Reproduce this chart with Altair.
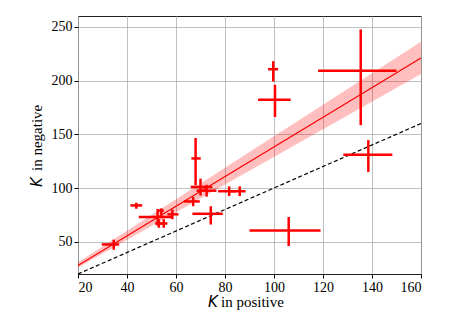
import altair as alt
import pandas as pd

# Cross (error bar) data
kpos    = [135.4, 99.7, 100.4, 138.5, 68.0, 70.0, 72.5, 81.7, 86.0, 67.0, 74.2, 106.0, 43.8, 52.5, 54.0, 53.0, 55.0, 58.5, 34.6]
kpos_lo = [118.0, 97.6, 93.5, 128.3, 66.3, 66.0, 68.4, 77.2, 82.0, 63.2, 66.7, 90.0, 41.4, 44.8, 52.8, 51.5, 53.5, 56.5, 29.7]
kpos_hi = [150.0, 101.7, 106.8, 148.3, 70.1, 74.8, 76.5, 84.5, 88.4, 69.7, 79.1, 119.0, 46.2, 58.8, 55.0, 54.5, 56.5, 61.0, 36.8]
kneg    = [209.0, 210.5, 182.0, 131.0, 127.5, 101.0, 97.5, 97.0, 97.0, 87.5, 76.0, 60.5, 83.8, 73.0, 79.0, 67.0, 67.0, 75.5, 47.5]
kneg_lo = [158.5, 199.0, 166.0, 115.0, 102.5, 93.0, 92.0, 92.5, 92.5, 83.0, 66.0, 46.0, 80.7, 65.0, 74.0, 63.0, 63.0, 71.0, 42.5]
kneg_hi = [247.5, 218.0, 196.0, 144.5, 146.5, 108.7, 103.0, 101.5, 101.5, 91.6, 83.0, 73.0, 86.3, 80.5, 81.0, 71.0, 71.0, 80.0, 52.0]

# Fit line and confidence band endpoints
fit_x  = [20, 160]
fit_y  = [28, 221]
fit_lo = [26, 206]
fit_hi = [31, 236]

# Reference y = x line
ref_x = [20, 160]
ref_y = [20, 160]

x_ticks = [20, 40, 60, 80, 100, 120, 140, 160]
y_ticks = [50, 100, 150, 200, 250]

pts = pd.DataFrame({"x": kpos, "xlo": kpos_lo, "xhi": kpos_hi,
                    "y": kneg, "ylo": kneg_lo, "yhi": kneg_hi})
fit = pd.DataFrame({"x": fit_x, "y": fit_y, "lo": fit_lo, "hi": fit_hi})
ref = pd.DataFrame({"x": ref_x, "y": ref_y})

xs = alt.Scale(domain=[20, 160], nice=False, zero=False)
ys = alt.Scale(domain=[20, 260], nice=False, zero=False)
xax = alt.Axis(values=x_ticks, title=None)
yax = alt.Axis(values=y_ticks, title=None)

band = alt.Chart(fit).mark_area(color="#ff0000", opacity=0.25).encode(
    x=alt.X("x:Q", scale=xs, axis=xax),
    y=alt.Y("lo:Q", scale=ys, axis=yax),
    y2="hi:Q",
)
fitline = alt.Chart(fit).mark_line(color="#ff0000", strokeWidth=1.2).encode(
    x=alt.X("x:Q", scale=xs), y=alt.Y("y:Q", scale=ys)
)
refline = alt.Chart(ref).mark_line(color="black", strokeWidth=1.2, strokeDash=[4, 2.5]).encode(
    x=alt.X("x:Q", scale=xs), y=alt.Y("y:Q", scale=ys)
)
hbar = alt.Chart(pts).mark_rule(color="#ff0000", strokeWidth=2.5).encode(
    x=alt.X("xlo:Q", scale=xs), x2="xhi:Q", y=alt.Y("y:Q", scale=ys)
)
vbar = alt.Chart(pts).mark_rule(color="#ff0000", strokeWidth=2.5).encode(
    x=alt.X("x:Q", scale=xs), y=alt.Y("ylo:Q", scale=ys), y2="yhi:Q"
)

def label(txt, x, y, font, style="normal", angle=0):
    return alt.Chart(pd.DataFrame({"t": [txt]})).mark_text(
        text=txt, font=font, fontSize=15, fontStyle=style, align="left",
        baseline="alphabetic", angle=angle, color="black"
    ).encode(x=alt.value(x), y=alt.value(y))

titles = [
    label("K", 130, 291, "DejaVu Sans", "italic"),
    label("in positive", 143, 291, "Liberation Serif"),
    label("K", -36, 171, "DejaVu Sans", "italic", 270),
    label("in negative", -36, 155, "Liberation Serif", "normal", 270),
]

chart = alt.layer(band, fitline, refline, hbar, vbar, *titles).properties(
    width=343, height=258,
    background="white",
    autosize=alt.AutoSizeParams(type="none"),
    padding={"left": 70, "top": 8, "right": 30, "bottom": 50},
).configure_view(
    stroke="#222222", strokeWidth=1
).configure_axis(
    grid=True, gridColor="#b0b0b0", gridWidth=0.8, domain=False,
    tickColor="black", tickSize=4, tickWidth=1,
    labelFont="Liberation Serif", labelFontSize=14, labelColor="black", labelPadding=2,
)

chart.save("out.html", embed_options={"renderer": "svg", "actions": False})
